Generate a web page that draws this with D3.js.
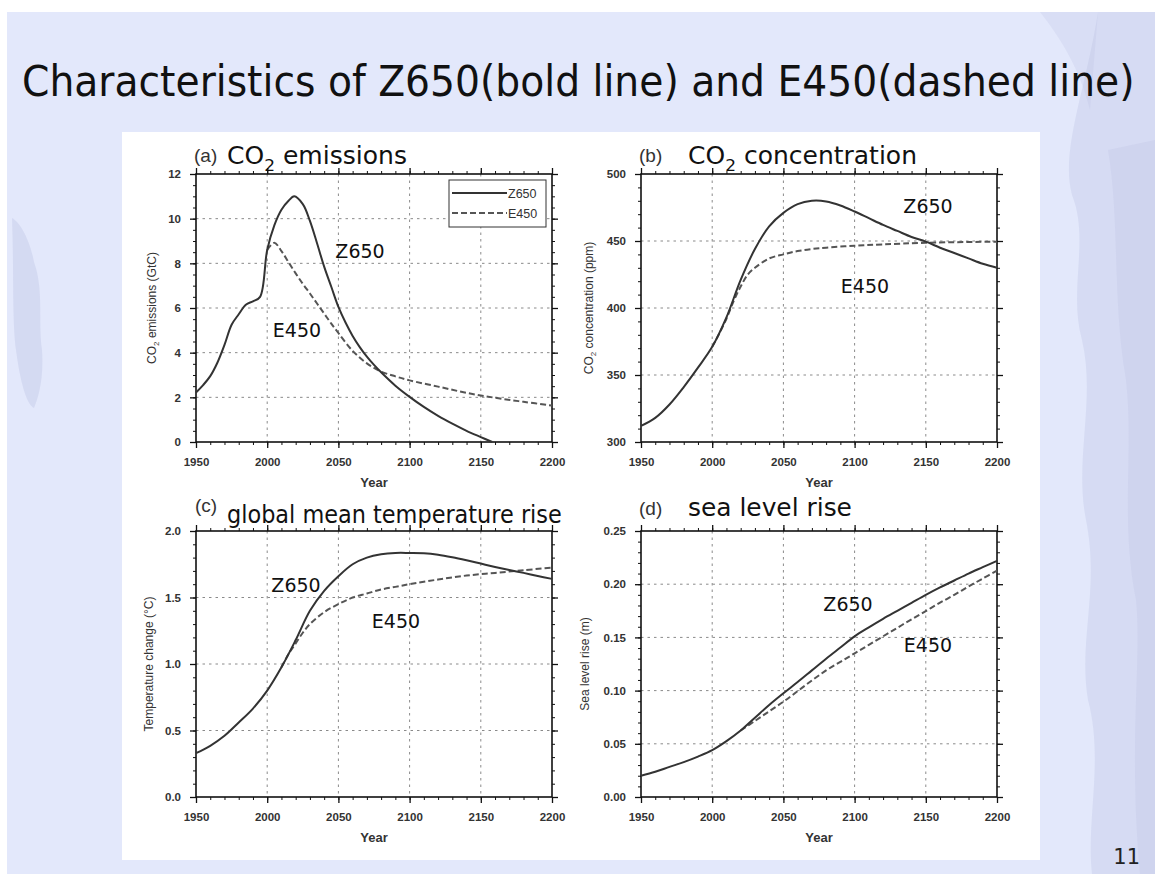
<!DOCTYPE html>
<html>
<head>
<meta charset="utf-8">
<script src="https://cdn.jsdelivr.net/npm/d3@7"></script>
<style>
  html, body { margin: 0; padding: 0; background: #fff; }
  svg { display: block; }
  .tick text { font-family: "Liberation Sans", Arial, sans-serif; }
</style>
</head>
<body>
<div id="chart"></div>
<script>
// ---- data ----
const xTicks = [1950, 2000, 2050, 2100, 2150, 2200];

// (a) CO2 emissions (GtC)
const emisYearsZ = [1950, 1955, 1960, 1965, 1970, 1975, 1980, 1985, 1990, 1995, 2000, 2005, 2010, 2015, 2019, 2025, 2030, 2035, 2040, 2045, 2050, 2055, 2060, 2065, 2070, 2075, 2080, 2090, 2100, 2110, 2120, 2130, 2140, 2150, 2158];
const emisZ650 = [2.22, 2.55, 2.95, 3.55, 4.35, 5.25, 5.72, 6.15, 6.3, 6.5, 8.6, 9.7, 10.4, 10.8, 11.0, 10.65, 9.9, 8.9, 7.85, 6.95, 6.05, 5.35, 4.75, 4.25, 3.82, 3.45, 3.12, 2.52, 2.02, 1.57, 1.17, 0.82, 0.5, 0.22, 0.0];
const emisYearsE = [2000, 2005, 2010, 2015, 2020, 2025, 2030, 2035, 2040, 2045, 2050, 2060, 2070, 2080, 2090, 2100, 2120, 2140, 2160, 2180, 2200];
const emisE450 = [8.6, 8.92, 8.55, 8.05, 7.55, 7.08, 6.65, 6.2, 5.75, 5.3, 4.88, 4.08, 3.52, 3.15, 2.94, 2.76, 2.48, 2.2, 1.98, 1.8, 1.63];
const emisTicks = [0, 2, 4, 6, 8, 10, 12];

// (b) CO2 concentration (ppm)
const concYearsZ = [1950, 1960, 1970, 1980, 1990, 2000, 2010, 2020, 2030, 2040, 2050, 2060, 2070, 2080, 2090, 2100, 2110, 2120, 2130, 2140, 2150, 2160, 2170, 2180, 2190, 2200];
const concZ650 = [312, 318, 328, 341, 355.5, 371, 393, 421, 444, 461, 471, 477.5, 480, 479.5, 476.5, 472, 467, 462, 457.5, 453, 449.5, 445, 441, 437, 433, 430];
const concYearsE = [2000, 2005, 2010, 2015, 2020, 2025, 2030, 2040, 2050, 2060, 2070, 2080, 2100, 2120, 2150, 2200];
const concE450 = [371, 381, 392, 405, 416, 425, 430, 437, 440, 442.5, 444, 445, 446.5, 447.5, 448.7, 449.5];
const concTicks = [300, 350, 400, 450, 500];

// (c) global mean temperature rise (degC)
const tempYearsZ = [1950, 1960, 1970, 1980, 1990, 2000, 2010, 2020, 2030, 2040, 2050, 2060, 2070, 2080, 2090, 2100, 2110, 2120, 2130, 2140, 2150, 2160, 2170, 2180, 2190, 2200];
const tempZ650 = [0.33, 0.385, 0.46, 0.56, 0.665, 0.80, 0.975, 1.18, 1.40, 1.55, 1.66, 1.75, 1.80, 1.825, 1.835, 1.835, 1.833, 1.822, 1.803, 1.78, 1.755, 1.73, 1.707, 1.685, 1.662, 1.64];
const tempYearsE = [2010, 2015, 2020, 2025, 2030, 2040, 2050, 2060, 2070, 2080, 2090, 2100, 2120, 2140, 2160, 2180, 2200];
const tempE450 = [0.975, 1.075, 1.155, 1.235, 1.30, 1.39, 1.45, 1.50, 1.53, 1.56, 1.58, 1.60, 1.635, 1.665, 1.685, 1.705, 1.725];
const tempTicks = [0, 0.5, 1.0, 1.5, 2.0];

// (d) sea level rise (m)
const seaYearsZ = [1950, 1960, 1970, 1980, 1990, 2000, 2010, 2020, 2030, 2040, 2050, 2060, 2070, 2080, 2090, 2100, 2110, 2120, 2130, 2140, 2150, 2160, 2170, 2180, 2190, 2200];
const seaZ650 = [0.02, 0.0237, 0.0283, 0.0328, 0.038, 0.044, 0.0525, 0.0625, 0.0745, 0.0865, 0.0975, 0.108, 0.119, 0.130, 0.1405, 0.151, 0.1595, 0.1675, 0.175, 0.1825, 0.190, 0.197, 0.2035, 0.210, 0.216, 0.222];
const seaYearsE = [2020, 2030, 2040, 2050, 2060, 2070, 2080, 2090, 2100, 2110, 2120, 2130, 2140, 2150, 2160, 2170, 2180, 2190, 2200];
const seaE450 = [0.0625, 0.0715, 0.0805, 0.0895, 0.0995, 0.1095, 0.119, 0.127, 0.135, 0.143, 0.151, 0.159, 0.167, 0.1748, 0.1826, 0.190, 0.1978, 0.2053, 0.2127];
const seaTicks = [0, 0.05, 0.10, 0.15, 0.20, 0.25];

const W = 1155, H = 874;
const svg = d3.select("#chart").append("svg").attr("width", W).attr("height", H);

// squeeze a text horizontally so it spans the given width from x
function fitWidth(sel, x, y, width) {
  const natural = sel.node().getComputedTextLength();
  sel.attr("x", 0).attr("y", 0)
    .attr("transform", "translate(" + x + "," + y + ") scale(" + (width / natural) + ",1)");
  return sel;
}

// slide background
svg.append("rect").attr("width", W).attr("height", H).attr("fill", "#ffffff");
svg.append("rect").attr("x", 7).attr("y", 12).attr("width", W - 7).attr("height", H - 12).attr("fill", "#e3e8fb");

// faint brush-stroke decoration
const deco = svg.append("g").attr("fill", "#b4bbdd");
deco.append("path").attr("opacity", 0.28)
  .attr("d", "M1098,12 L1155,12 L1155,874 L1092,874 C1086,820 1104,760 1088,700 C1078,640 1100,590 1086,520 C1074,460 1096,400 1082,340 C1068,290 1090,240 1072,195 C1060,150 1086,90 1098,12 Z");
deco.append("path").attr("opacity", 0.22)
  .attr("d", "M1108,150 C1120,220 1112,300 1126,380 C1134,450 1120,520 1136,600 C1142,660 1128,740 1140,874 L1155,874 L1155,140 Z");
deco.append("path").attr("opacity", 0.22)
  .attr("d", "M1040,12 C1062,40 1080,70 1090,110 L1098,12 Z");
deco.append("path").attr("opacity", 0.3)
  .attr("d", "M12,218 C20,222 30,240 34,262 C44,290 38,320 42,350 C44,380 38,398 34,408 C26,404 20,380 16,350 C12,320 14,270 12,218 Z");

// white figure panel
svg.append("rect").attr("x", 122).attr("y", 132).attr("width", 918).attr("height", 728).attr("fill", "#ffffff");

// slide title
const title = svg.append("text")
  .style("font-family", "'DejaVu Sans', Verdana, sans-serif")
  .style("font-size", "43px").attr("fill", "#111")
  .text("Characteristics of Z650(bold line) and E450(dashed line)");
fitWidth(title, 22, 96, 1113);

// page number
svg.append("text").attr("x", 1140).attr("y", 864).attr("text-anchor", "end")
  .style("font-family", "'DejaVu Sans', sans-serif").style("font-size", "21px").attr("fill", "#222")
  .text("11");

const panels = [
  { left: 196, top: 174, h: 268, yearsZ: emisYearsZ, z: emisZ650, yearsE: emisYearsE, e: emisE450,
    yTicks: emisTicks, yMinor: 0.5, fmt: d3.format("d"),
    tag: "(a)", tagX: 194, tagY: 162, head: ["CO", "2", " emissions"], headX: 227, headY: 164, headLen: 180,
    yTitle: ["CO", "2", " emissions (GtC)"], yTitleX: 152,
    zLab: [360, 258], eLab: [297, 337], legend: true },
  { left: 641, top: 174, h: 268, yearsZ: concYearsZ, z: concZ650, yearsE: concYearsE, e: concE450,
    yTicks: concTicks, yMinor: 10, fmt: d3.format("d"),
    tag: "(b)", tagX: 639, tagY: 162, head: ["CO", "2", " concentration"], headX: 688, headY: 164, headLen: 229,
    yTitle: ["CO", "2", " concentration (ppm)"], yTitleX: 589,
    zLab: [928, 213], eLab: [865, 293] },
  { left: 196, top: 531, h: 266, yearsZ: tempYearsZ, z: tempZ650, yearsE: tempYearsE, e: tempE450,
    yTicks: tempTicks, yMinor: 0.1, fmt: d3.format(".1f"),
    tag: "(c)", tagX: 195, tagY: 512, head: ["global mean temperature rise"], headX: 227, headY: 523, headLen: 335,
    yTitle: ["Temperature change (°C)"], yTitleX: 149,
    zLab: [296, 592], eLab: [396, 628] },
  { left: 641, top: 531, h: 266, yearsZ: seaYearsZ, z: seaZ650, yearsE: seaYearsE, e: seaE450,
    yTicks: seaTicks, yMinor: 0.01, fmt: d3.format(".2f"),
    tag: "(d)", tagX: 639, tagY: 515, head: ["sea level rise"], headX: 688, headY: 516, headLen: 164,
    yTitle: ["Sea level rise (m)"], yTitleX: 585,
    zLab: [848, 611], eLab: [928, 652] }
];

const plotW = 356;

function minorRange(lo, hi, step) {
  const n = Math.round((hi - lo) / step);
  return d3.range(n + 1).map(i => +(lo + i * step).toFixed(6));
}

function addText(g, parts, x, y, size, anchor) {
  const t = g.append("text").attr("x", x).attr("y", y)
    .attr("text-anchor", anchor || "start")
    .style("font-family", "'DejaVu Sans', Verdana, sans-serif")
    .style("font-size", size + "px").attr("fill", "#111");
  parts.forEach((p, i) => {
    if (parts.length === 3 && i === 1) {
      t.append("tspan").attr("dy", size * 0.28).style("font-size", (size * 0.68) + "px").text(p);
    } else if (parts.length === 3 && i === 2) {
      t.append("tspan").attr("dy", -size * 0.28).text(p);
    } else {
      t.append("tspan").text(p);
    }
  });
  return t;
}

function drawPanel(p) {
  const g = svg.append("g").attr("transform", "translate(" + p.left + "," + p.top + ")");
  const x = d3.scaleLinear().domain([1950, 2200]).range([0, plotW]);
  const yDom = d3.extent(p.yTicks);
  const y = d3.scaleLinear().domain(yDom).range([p.h, 0]);

  // dotted grid
  const grid = g.append("g").attr("stroke", "#8a8a8a").attr("stroke-width", 1).attr("stroke-dasharray", "2.5,4");
  grid.selectAll(".gx").data(xTicks.slice(1, -1)).join("line")
    .attr("x1", d => x(d)).attr("x2", d => x(d)).attr("y1", 0).attr("y2", p.h);
  grid.selectAll(".gy").data(p.yTicks.slice(1, -1)).join("line")
    .attr("y1", d => y(d)).attr("y2", d => y(d)).attr("x1", 0).attr("x2", plotW);

  const xMinor = minorRange(1950, 2200, 10);
  const yMinor = minorRange(yDom[0], yDom[1], p.yMinor);

  const styleAxis = sel => {
    sel.select(".domain").remove();
    sel.selectAll(".tick line").attr("stroke", "#111").attr("stroke-width", 1.3);
    sel.selectAll(".tick text").style("font-size", "11.5px").attr("fill", "#333").style("font-weight", "bold");
  };

  // major + minor ticks on all four sides
  [[d3.axisBottom(x), "translate(0," + p.h + ")", xTicks, xMinor, true],
   [d3.axisTop(x), null, xTicks, xMinor, false],
   [d3.axisLeft(y), null, p.yTicks, yMinor, true],
   [d3.axisRight(y), "translate(" + plotW + ",0)", p.yTicks, yMinor, false]]
    .forEach(([ax, tr, major, minor, labels]) => {
      const gm = g.append("g").attr("transform", tr);
      gm.call(ax.tickValues(minor).tickSize(3).tickFormat(""));
      styleAxis(gm);
      gm.selectAll(".tick line").attr("stroke-width", 1);
      const gM = g.append("g").attr("transform", tr);
      const fmt = (major === xTicks) ? d3.format("d") : p.fmt;
      gM.call(ax.tickValues(major).tickSize(6).tickPadding(major === xTicks ? 10 : 9).tickFormat(labels ? fmt : ""));
      styleAxis(gM);
    });

  // frame
  g.append("rect").attr("width", plotW).attr("height", p.h)
    .attr("fill", "none").attr("stroke", "#111").attr("stroke-width", 1.6);

  const line = d3.line().x(d => x(d[0])).y(d => y(d[1])).curve(d3.curveCatmullRom.alpha(0.5));
  g.append("path").datum(d3.zip(p.yearsE, p.e)).attr("d", line)
    .attr("fill", "none").attr("stroke", "#555").attr("stroke-width", 2).attr("stroke-dasharray", "6,3");
  g.append("path").datum(d3.zip(p.yearsZ, p.z)).attr("d", line)
    .attr("fill", "none").attr("stroke", "#333").attr("stroke-width", 2);

  // x title
  g.append("text").attr("x", plotW / 2).attr("y", p.h + 45).attr("text-anchor", "middle")
    .style("font-family", "'Liberation Sans', Arial, sans-serif").style("font-size", "13px")
    .style("font-weight", "bold").attr("fill", "#333").text("Year");

  // y title (rotated)
  const yt = svg.append("text")
    .attr("transform", "translate(" + (p.yTitleX + 4) + "," + (p.top + p.h / 2) + ") rotate(-90)")
    .attr("text-anchor", "middle")
    .style("font-family", "'Liberation Sans', Arial, sans-serif").style("font-size", "12px")
    .attr("fill", "#333");
  p.yTitle.forEach((s, i) => {
    if (p.yTitle.length === 3 && i === 1) yt.append("tspan").attr("dy", 3).style("font-size", "8px").text(s);
    else if (p.yTitle.length === 3 && i === 2) yt.append("tspan").attr("dy", -3).text(s);
    else yt.append("tspan").text(s);
  });

  // panel heading
  svg.append("text").attr("x", p.tagX).attr("y", p.tagY)
    .style("font-family", "'Liberation Sans', Arial, sans-serif").style("font-size", "19px")
    .attr("fill", "#333").text(p.tag);
  const head = addText(svg, p.head, 0, 0, 24);
  fitWidth(head, p.headX, p.headY, p.headLen);

  // curve labels
  addText(svg, ["Z650"], p.zLab[0], p.zLab[1], 19, "middle");
  addText(svg, ["E450"], p.eLab[0], p.eLab[1], 19, "middle");

  if (p.legend) {
    const lg = g.append("g").attr("transform", "translate(" + (449 - p.left) + "," + (180 - p.top) + ")");
    lg.append("rect").attr("width", 97).attr("height", 47).attr("fill", "#fff").attr("stroke", "#333").attr("stroke-width", 1);
    const items = [["Z650", null, "#333"], ["E450", "6,3", "#555"]];
    items.forEach((it, i) => {
      const yy = 13 + i * 20;
      lg.append("line").attr("x1", 3).attr("x2", 58).attr("y1", yy).attr("y2", yy)
        .attr("stroke", it[2]).attr("stroke-width", 2).attr("stroke-dasharray", it[1]);
      lg.append("text").attr("x", 59).attr("y", yy + 5)
        .style("font-family", "'Liberation Sans', Arial, sans-serif").style("font-size", "12.5px")
        .attr("fill", "#333").text(it[0]);
    });
  }
}

panels.forEach(drawPanel);
</script>
</body>
</html>
